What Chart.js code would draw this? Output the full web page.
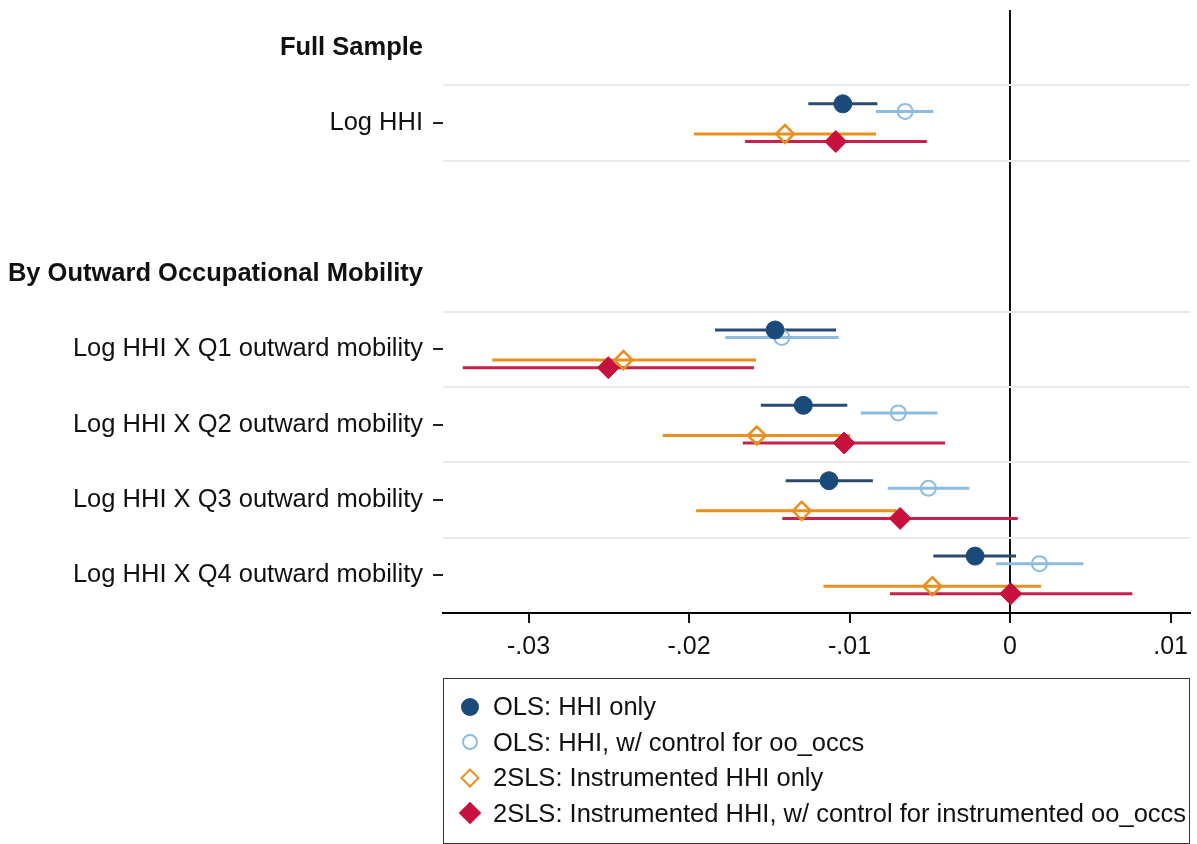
<!DOCTYPE html>
<html>
<head>
<meta charset="utf-8">
<title>Coefficient plot</title>
<script src="https://cdn.jsdelivr.net/npm/chart.js@4.4.1/dist/chart.umd.min.js"></script>
<style>
    html, body { margin: 0; padding: 0; background: #fff; }
    #wrap { position: relative; width: 1197px; height: 844px; }
    #legend {
        position: absolute; left: 443px; top: 678px; width: 747px; height: 166px;
        box-sizing: border-box; border: 1.5px solid #333; padding-top: 10px;
        font-family: 'Liberation Sans', Arial, sans-serif; font-size: 25.5px; color: #111;
    }
    #legend .item { position: relative; height: 35.5px; line-height: 35.5px; padding-left: 49px; white-space: nowrap; }
    #legend .mk { position: absolute; left: 26px; top: 50%; box-sizing: border-box; }
    .mk0 { width: 18px; height: 18px; margin: -9px 0 0 -9px; border-radius: 50%; background: #1a4a7a; }
    .mk1 { width: 16px; height: 16px; margin: -8px 0 0 -8px; border-radius: 50%; border: 2px solid #8cbce0; }
    .mk2 { width: 14px; height: 14px; margin: -7px 0 0 -7px; border: 2.5px solid #e8901e; transform: rotate(45deg); }
    .mk3 { width: 16px; height: 16px; margin: -8px 0 0 -8px; background: #c8103f; transform: rotate(45deg); }
</style>
</head>
<body>
<div id="wrap">
    <canvas id="chart" width="1197" height="844"></canvas>
    <div id="legend"></div>
</div>
<script>
// --- data ---
const headers = ['Full Sample', 'By Outward Occupational Mobility'];
const headerPos = [0, 3];
const rowLabels = [
    'Log HHI',
    'Log HHI X Q1 outward mobility',
    'Log HHI X Q2 outward mobility',
    'Log HHI X Q3 outward mobility',
    'Log HHI X Q4 outward mobility'
];
const rowPos = [1, 4, 5, 6, 7];

const seriesNames = [
    'OLS: HHI only',
    'OLS: HHI, w/ control for oo_occs',
    '2SLS: Instrumented HHI only',
    '2SLS: Instrumented HHI, w/ control for instrumented oo_occs'
];

// OLS: HHI only
const olsEst = [-0.01042, -0.01464, -0.01288, -0.01128, -0.00218];
const olsLo  = [-0.01257, -0.01838, -0.01553, -0.01398, -0.00478];
const olsHi  = [-0.00827, -0.01084, -0.01014, -0.00855,  0.00037];

// OLS: HHI, w/ control for oo_occs
const olsCtlEst = [-0.00654, -0.01422, -0.00696, -0.00509,  0.00183];
const olsCtlLo  = [-0.00835, -0.01774, -0.00930, -0.00762, -0.00087];
const olsCtlHi  = [-0.00478, -0.01067, -0.00453, -0.00254,  0.00457];

// 2SLS: Instrumented HHI only
const ivEst = [-0.01402, -0.02409, -0.01578, -0.01298, -0.00484];
const ivLo  = [-0.01969, -0.03226, -0.02164, -0.01956, -0.01163];
const ivHi  = [-0.00835, -0.01583, -0.00997, -0.00706,  0.00193];

// 2SLS: Instrumented HHI, w/ control for instrumented oo_occs
const ivCtlEst = [-0.01086, -0.02503, -0.01034, -0.00685,  0.00004];
const ivCtlLo  = [-0.01651, -0.03410, -0.01665, -0.01419, -0.00748];
const ivCtlHi  = [-0.00519, -0.01595, -0.00405,  0.00048,  0.00762];

const xTicks = [-0.03, -0.02, -0.01, 0, 0.01];
const xTickLabels = ['-.03', '-.02', '-.01', '0', '.01'];

// --- styling ---
const FONT = "'Liberation Sans', Arial, sans-serif";
const offsets = [-0.255, -0.155, 0.145, 0.245];
const styles = [
    { line: '#2c4a6e', fill: '#1a4a7a', border: '#1a4a7a', shape: 'circle', r: 9, bw: 1 },
    { line: '#8cbce0', fill: 'transparent', border: '#8cbce0', shape: 'circle', r: 7.5, bw: 2 },
    { line: '#e8901e', fill: 'transparent', border: '#e8901e', shape: 'rectRot', r: 9, bw: 2.5 },
    { line: '#c8204a', fill: '#c8103f', border: '#c8103f', shape: 'rectRot', r: 11, bw: 1 }
];
const est = [olsEst, olsCtlEst, ivEst, ivCtlEst];
const lo = [olsLo, olsCtlLo, ivLo, ivCtlLo];
const hi = [olsHi, olsCtlHi, ivHi, ivCtlHi];

const datasets = [];
seriesNames.forEach((name, i) => {
    const s = styles[i];
    datasets.push({
        label: name,
        data: rowPos.map((y, r) => ({ x: est[i][r], y: y + offsets[i] })),
        pointStyle: s.shape,
        pointRadius: s.r,
        backgroundColor: s.fill,
        borderColor: s.border,
        borderWidth: s.bw,
        order: 0
    });
});
seriesNames.forEach((name, i) => {
    const pts = [];
    rowPos.forEach((y, r) => {
        pts.push({ x: lo[i][r], y: y + offsets[i] });
        pts.push({ x: hi[i][r], y: y + offsets[i] });
        pts.push({ x: null, y: null });
    });
    datasets.push({
        label: name + ' CI',
        data: pts,
        showLine: true,
        spanGaps: false,
        borderColor: styles[i].line,
        borderWidth: 3,
        pointRadius: 0,
        order: 1
    });
});

const yTickVals = [0, 0.5, 1, 1.5, 3, 3.5, 4, 4.5, 5, 5.5, 6, 6.5, 7];
function yLabel(v) {
    const h = headerPos.indexOf(v);
    if (h >= 0) return headers[h];
    const r = rowPos.indexOf(v);
    if (r >= 0) return rowLabels[r];
    return '';
}

new Chart(document.getElementById('chart'), {
    type: 'scatter',
    data: { datasets: datasets },
    options: {
        responsive: false,
        animation: false,
        layout: { autoPadding: false, padding: { top: 10, right: 7, bottom: 181, left: 0 } },
        plugins: {
            legend: { display: false },
            tooltip: { enabled: false }
        },
        scales: {
            x: {
                type: 'linear',
                min: -0.03533,
                max: 0.01121,
                afterBuildTicks: scale => { scale.ticks = xTicks.map(v => ({ value: v })); },
                afterFit: scale => {
                    scale.height = 50;
                    scale.paddingLeft = 0;
                    scale.paddingRight = 0;
                },
                border: { display: true, color: '#000', width: 2 },
                grid: {
                    drawOnChartArea: true,
                    color: ctx => (ctx.tick && ctx.tick.value === 0 ? '#111' : 'transparent'),
                    lineWidth: 2,
                    tickColor: '#111',
                    tickWidth: 2,
                    tickLength: 10
                },
                ticks: {
                    autoSkip: false,
                    maxRotation: 0,
                    padding: 9,
                    color: '#111',
                    font: { family: FONT, size: 25 },
                    callback: v => xTickLabels[xTicks.indexOf(v)]
                }
            },
            y: {
                type: 'linear',
                reverse: true,
                min: -0.5,
                max: 7.5,
                afterBuildTicks: scale => { scale.ticks = yTickVals.map(v => ({ value: v })); },
                afterFit: scale => {
                    scale.width = 443;
                    scale.paddingTop = 0;
                    scale.paddingBottom = 0;
                },
                border: { display: false },
                grid: {
                    color: ctx => (ctx.tick && ctx.tick.value % 1 !== 0 ? '#e7ebef' : 'transparent'),
                    lineWidth: 2,
                    tickColor: ctx => (ctx.tick && rowPos.includes(ctx.tick.value) ? '#222' : 'transparent'),
                    tickWidth: 2,
                    tickLength: 10
                },
                ticks: {
                    autoSkip: false,
                    padding: 10,
                    color: '#111',
                    font: ctx => ({
                        family: FONT,
                        size: 25.5,
                        weight: ctx.tick && headerPos.includes(ctx.tick.value) ? 'bold' : 'normal'
                    }),
                    callback: v => yLabel(v)
                }
            }
        }
    }
});

// legend box below the plot
const legendEl = document.getElementById('legend');
seriesNames.forEach((name, i) => {
    const item = document.createElement('div');
    item.className = 'item';
    const mk = document.createElement('span');
    mk.className = 'mk mk' + i;
    item.appendChild(mk);
    item.appendChild(document.createTextNode(name));
    legendEl.appendChild(item);
});
</script>
</body>
</html>
